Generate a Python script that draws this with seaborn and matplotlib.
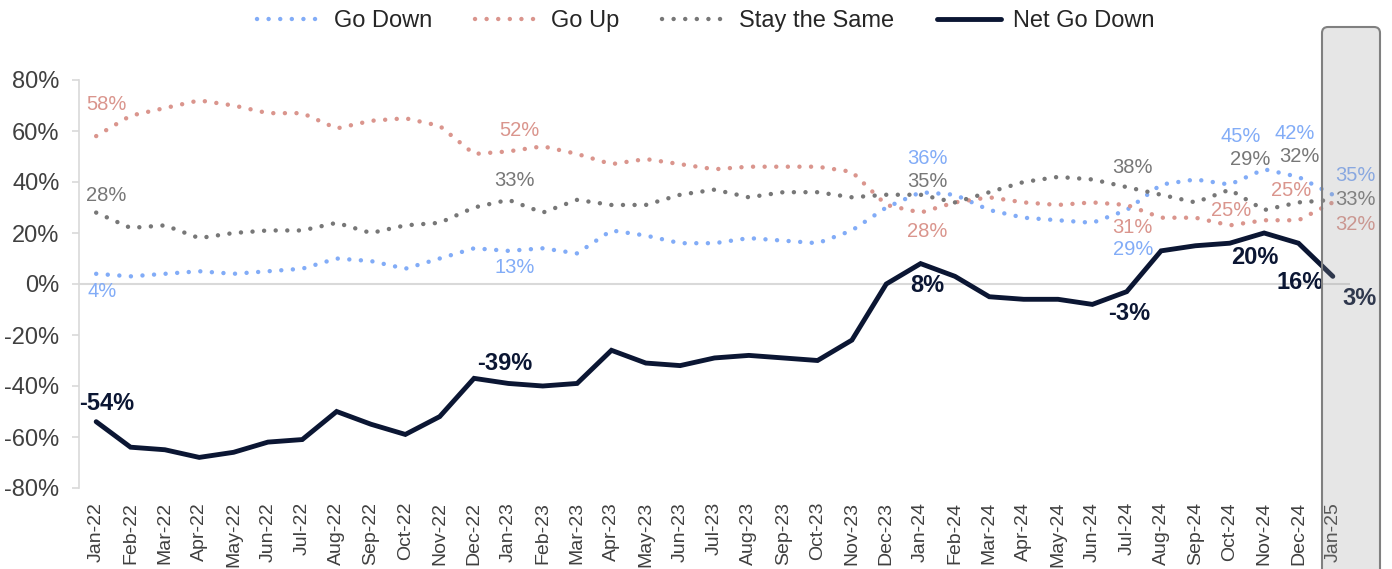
import numpy as np
import pandas as pd
import matplotlib
matplotlib.use("Agg")
import matplotlib.pyplot as plt
import seaborn as sns
from matplotlib.patches import FancyBboxPatch

# --- data ---
months = ['Jan-22', 'Feb-22', 'Mar-22', 'Apr-22', 'May-22', 'Jun-22', 'Jul-22', 'Aug-22',
          'Sep-22', 'Oct-22', 'Nov-22', 'Dec-22',
          'Jan-23', 'Feb-23', 'Mar-23', 'Apr-23', 'May-23', 'Jun-23', 'Jul-23', 'Aug-23',
          'Sep-23', 'Oct-23', 'Nov-23', 'Dec-23',
          'Jan-24', 'Feb-24', 'Mar-24', 'Apr-24', 'May-24', 'Jun-24', 'Jul-24', 'Aug-24',
          'Sep-24', 'Oct-24', 'Nov-24', 'Dec-24',
          'Jan-25']

go_down = [4, 3, 4, 5, 4, 5, 6, 10, 9, 6, 10, 14,
           13, 14, 12, 21, 19, 16, 16, 18, 17, 16, 21, 30,
           36, 35, 29, 26, 25, 24, 29, 39, 41, 39, 45, 42,
           35]
go_up = [58, 66, 69, 72, 70, 67, 67, 61, 64, 65, 62, 51,
         52, 54, 51, 47, 49, 47, 45, 46, 46, 46, 44, 31,
         28, 32, 34, 32, 31, 32, 31, 26, 26, 23, 25, 25,
         32]
stay_same = [28, 22, 23, 18, 20, 21, 21, 24, 20, 23, 24, 30,
             33, 28, 33, 31, 31, 35, 37, 34, 36, 36, 34, 35,
             35, 32, 36, 40, 42, 41, 38, 35, 32, 37, 29, 32,
             33]
net_go_down = [-54, -64, -65, -68, -66, -62, -61, -50, -55, -59, -52, -37,
               -39, -40, -39, -26, -31, -32, -29, -28, -29, -30, -22, 0,
               8, 3, -5, -6, -6, -8, -3, 13, 15, 16, 20, 16,
               3]

# months that carry data labels
label_idx = [0, 12, 24, 30, 34, 35, 36]

# label offsets in pixels (dx, dy) per series, same order as label_idx
offsets = {
    'Go Down': [(6, -18), (6, -17), (7, 34), (6, -39), (-23, 33), (-4, 43), (23, 19)],
    'Go Up': [(10, 32), (11, 21), (7, -19), (6, -23), (-33, 10), (-7, 30), (23, -22)],
    'Stay the Same': [(10, 17), (6, 19), (7, 13), (6, 20), (-14, 51), (1, 46), (23, 0)],
    'Net Go Down': [(11, 18), (-4, 20), (7, -22), (2, -22), (-9, -24), (2, -39), (27, -22)],
}

colors = {
    'Go Down': '#82acf7',
    'Go Up': '#da958d',
    'Stay the Same': '#777777',
    'Net Go Down': '#0b1633',
}

df = pd.DataFrame({
    'idx': np.arange(len(months)),
    'Go Down': go_down,
    'Go Up': go_up,
    'Stay the Same': stay_same,
    'Net Go Down': net_go_down,
})

sns.set_style('white')
plt.rcParams['font.family'] = ['Liberation Sans', 'DejaVu Sans']

W, H = 1392, 569
fig = plt.figure(figsize=(W / 100, H / 100), dpi=100)
ax = fig.add_axes([79 / W, 1 - 488 / H, (1350 - 79) / W, (488 - 80) / H])

# zero line
ax.axhline(0, color='#d9d9d9', lw=1.5, zorder=1)

# dotted series
for name in ['Go Down', 'Go Up', 'Stay the Same']:
    sns.lineplot(data=df, x='idx', y=name, ax=ax, color=colors[name], lw=3.2,
                 label=name, legend=False, zorder=3)
    line = ax.lines[-1]
    line.set_linestyle((0, (0.01, 2.6)))
    line.set_dash_capstyle('round')

# net line
sns.lineplot(data=df, x='idx', y='Net Go Down', ax=ax, color=colors['Net Go Down'],
             lw=3.5, label='Net Go Down', legend=False, zorder=4)
ax.lines[-1].set_solid_joinstyle('miter')

# data labels
for name, offs in offsets.items():
    bold = name == 'Net Go Down'
    for i, (dx, dy) in zip(label_idx, offs):
        v = df.loc[i, name]
        ax.annotate(f'{v}%', xy=(i, v), xytext=(dx, dy), textcoords='offset pixels',
                    ha='center', va='center', color=colors[name],
                    fontsize=17 if bold else 14.5,
                    fontweight='bold' if bold else 'normal', zorder=6)

# axes styling
ax.set_xlim(-0.5, len(months) - 0.5)
ax.set_ylim(-80, 80)
ax.set_yticks(range(-80, 81, 20))
ax.set_yticklabels([f'{v}%' for v in range(-80, 81, 20)])
ax.set_xticks(df['idx'])
ax.set_xticklabels(months, rotation=90)
ax.set_xlabel('')
ax.set_ylabel('')
for side in ['top', 'right', 'bottom']:
    ax.spines[side].set_visible(False)
ax.spines['left'].set_color('#d9d9d9')
ax.spines['left'].set_linewidth(1.2)
ax.tick_params(axis='y', length=5, width=1.2, color='#d9d9d9', labelsize=17,
               labelcolor='#404040', pad=9, left=True)
ax.tick_params(axis='x', length=0, labelsize=14, labelcolor='#404040', pad=10)
ax.grid(False)

# legend
handles = ax.lines[1:5]
fig.legend(handles, [h.get_label() for h in handles], loc='center',
           bbox_to_anchor=(706 / W, 1 - 21 / H), ncol=4, frameon=False, fontsize=17,
           handlelength=2.75, handletextpad=0.5, columnspacing=1.8)

# highlight box on latest month
box = FancyBboxPatch((13.22, -0.2), 0.58, (H - 27) / 100 + 0.2,
                     boxstyle='round,pad=0,rounding_size=0.06',
                     transform=fig.dpi_scale_trans,
                     facecolor=(0.62, 0.62, 0.62, 0.25), edgecolor='#808080',
                     lw=1.5, zorder=10)
fig.add_artist(box)

fig.savefig('out.png', dpi=100)
